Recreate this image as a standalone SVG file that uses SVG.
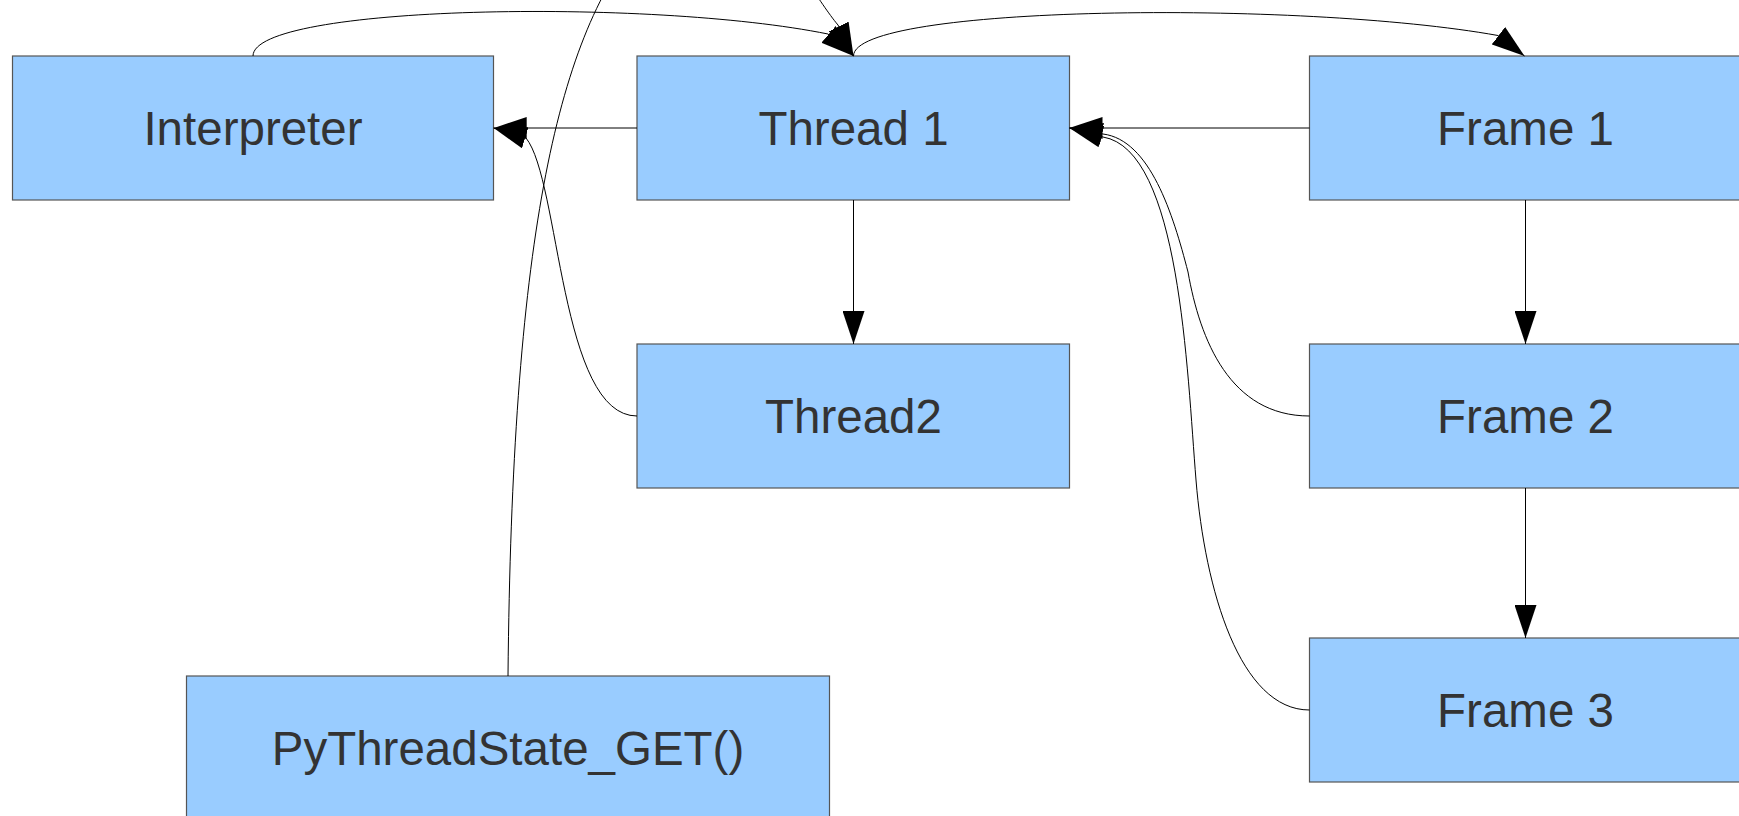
<svg xmlns="http://www.w3.org/2000/svg" width="1739" height="816" viewBox="0 0 1739 816">
  <style>
    .box { fill: #99ccff; stroke: #555555; stroke-width: 1.2; }
    .lbl { font-family: "Liberation Sans", Arial, sans-serif; font-size: 47.5px; fill: #333333; text-anchor: middle; }
    .edge { fill: none; stroke: #000000; stroke-width: 1; marker-end: url(#arrow); }
  </style>
  <defs>
    <marker id="arrow" markerUnits="userSpaceOnUse" viewBox="0 0 33 22" markerWidth="33" markerHeight="22" refX="33" refY="11" orient="auto">
      <path d="M0,0 L33,11 L0,22 Z" fill="#000000"/>
    </marker>
  </defs>
  <rect width="1739" height="816" fill="#ffffff"/>

  <g id="node-interpreter">
    <rect class="box" x="12.5" y="56" width="481" height="144"/>
    <text class="lbl" x="253" y="145">Interpreter</text>
  </g>
  <g id="node-thread1">
    <rect class="box" x="637" y="56" width="432.5" height="144"/>
    <text class="lbl" x="853.5" y="145">Thread 1</text>
  </g>
  <g id="node-thread2">
    <rect class="box" x="637" y="344" width="432.5" height="144"/>
    <text class="lbl" x="853.5" y="433">Thread2</text>
  </g>
  <g id="node-frame1">
    <rect class="box" x="1309.5" y="56" width="432" height="144"/>
    <text class="lbl" x="1525.5" y="145">Frame 1</text>
  </g>
  <g id="node-frame2">
    <rect class="box" x="1309.5" y="344" width="432" height="144"/>
    <text class="lbl" x="1525.5" y="433">Frame 2</text>
  </g>
  <g id="node-frame3">
    <rect class="box" x="1309.5" y="638" width="432" height="144"/>
    <text class="lbl" x="1525.5" y="727">Frame 3</text>
  </g>
  <g id="node-pythreadstate">
    <rect class="box" x="186.5" y="676" width="643" height="144"/>
    <text class="lbl" x="508" y="765">PyThreadState_GET()</text>
  </g>

  <g id="connectors">
    <path class="edge" d="M637,128 L493.7,128"/>
    <path class="edge" d="M1309.5,128 L1069.5,128"/>
    <path class="edge" d="M853.5,200 L853.5,344"/>
    <path class="edge" d="M1525.5,200 L1525.5,344"/>
    <path class="edge" d="M1525.5,488 L1525.5,638"/>
    <path class="edge" d="M253,56 C253,5 650,-2 828,34 L853.5,56"/>
    <path class="edge" d="M853.5,56 C853.5,5 1300,0 1498,35.5 L1524.5,56"/>
    <path class="edge" d="M637,416 C560,416 560,180 526,138 L493.7,128"/>
    <path class="edge" d="M1309.5,416 C1230,416 1200,340 1188,272 C1173,214 1150,140 1103,134 L1069.5,128"/>
    <path class="edge" d="M1309.5,710 C1240,710 1205,590 1196,480 C1187,370 1180,150 1103,137 L1069.5,128"/>
    <path class="edge" d="M508,676 C512,250 555,40 640,-60 C740,-160 800,-20 838,25 L853.5,56"/>
  </g>
</svg>
